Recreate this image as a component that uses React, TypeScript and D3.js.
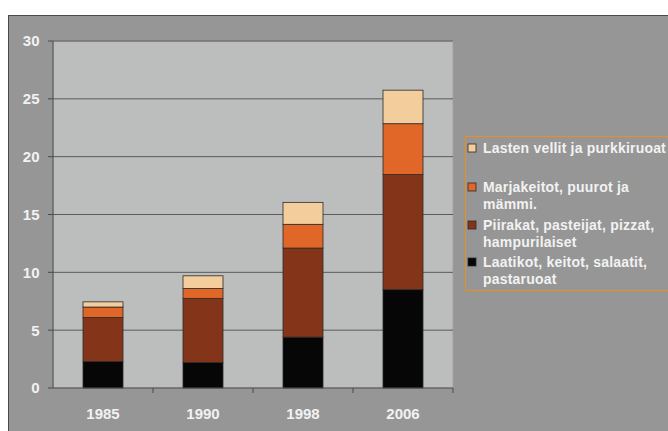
import * as d3 from 'd3';

const years = ['1985', '1990', '1998', '2006'];
const seriesNames = [
  'Laatikot, keitot, salaatit, pastaruoat',
  'Piirakat, pasteijat, pizzat, hampurilaiset',
  'Marjakeitot, puurot ja mämmi.',
  'Lasten vellit ja purkkiruoat',
];
const laatikot = [2.3, 2.2, 4.4, 8.5];
const piirakat = [3.8, 5.55, 7.7, 9.95];
const marjakeitot = [0.9, 0.85, 2.05, 4.4];
const lasten = [0.45, 1.1, 1.9, 2.9];
const yTicks = [0, 5, 10, 15, 20, 25, 30];

// legend lines, top to bottom
const legendLines = [
  ['Lasten vellit ja purkkiruoat'],
  ['Marjakeitot, puurot ja', 'mämmi.'],
  ['Piirakat, pasteijat, pizzat,', 'hampurilaiset'],
  ['Laatikot, keitot, salaatit,', 'pastaruoat'],
];

const colors = ['#060606', '#843519', '#e06727', '#f3cd9b'];

const W = 668;
const H = 431;
const margin = { top: 41, right: 215, bottom: 43, left: 53 };

export default function App() {
  const rows = years.map((y, i) => ({
    year: y,
    s0: laatikot[i],
    s1: piirakat[i],
    s2: marjakeitot[i],
    s3: lasten[i],
  }));
  const stack = d3.stack<any>().keys(['s0', 's1', 's2', 's3']);
  const layers = stack(rows);

  const x = d3.scaleBand()
    .domain(years)
    .range([margin.left, W - margin.right])
    .paddingInner(0.6)
    .paddingOuter(0.3);
  const band = d3.scaleBand().domain(years).range([margin.left, W - margin.right]);

  const y = d3.scaleLinear()
    .domain([0, 30])
    .range([H - margin.bottom, margin.top]);

  const font = 'Liberation Sans, Arial, sans-serif';
  const legendColor = [3, 2, 1, 0];
  const legendY = [153, 192, 230, 267];

  return (
    <svg width={W} height={H} style={{ position: 'absolute', left: 0, top: 0 }}>
      <rect x={0} y={0} width={W} height={H} fill="#ffffff" />
      <rect x={8.5} y={15.5} width={W} height={H} fill="#969696" stroke="#4a4a4a" strokeWidth={1} />
      <rect
        x={margin.left}
        y={margin.top}
        width={W - margin.right - margin.left}
        height={H - margin.bottom - margin.top}
        fill="#bcbebd"
        stroke="#a0a0a0"
      />
      {yTicks.map(t => (
        <g key={t} transform={`translate(0,${y(t)})`}>
          {t > 0 && (
            <line x1={margin.left} x2={W - margin.right} stroke="#5a5a5a" strokeWidth={1} />
          )}
          <line x1={margin.left - 5} x2={margin.left} stroke="#4a4a4a" />
          <text
            x={39.5}
            dy="0.36em"
            textAnchor="end"
            fill="#f2f2f2"
            fontFamily={font}
            fontWeight="bold"
            fontSize={15}
          >
            {t}
          </text>
        </g>
      ))}
      {layers.map((layer, li) => (
        <g key={li} fill={colors[li]}>
          {layer.map((d, i) => (
            <rect
              key={i}
              x={x(years[i])}
              y={y(d[1])}
              width={x.bandwidth()}
              height={y(d[0]) - y(d[1])}
              stroke="#2a2a2a"
              strokeWidth={0.8}
            />
          ))}
        </g>
      ))}
      <line
        x1={margin.left}
        x2={margin.left}
        y1={margin.top}
        y2={H - margin.bottom}
        stroke="#4a4a4a"
      />
      <line
        x1={margin.left}
        x2={W - margin.right}
        y1={H - margin.bottom}
        y2={H - margin.bottom}
        stroke="#4a4a4a"
      />
      {years.map(yr => (
        <line
          key={'t' + yr}
          x1={(band(yr) ?? 0) + band.bandwidth()}
          x2={(band(yr) ?? 0) + band.bandwidth()}
          y1={H - margin.bottom}
          y2={H - margin.bottom + 5}
          stroke="#4a4a4a"
        />
      ))}
      {years.map(yr => (
        <text
          key={'l' + yr}
          x={(x(yr) ?? 0) + x.bandwidth() / 2}
          y={419}
          textAnchor="middle"
          fill="#f2f2f2"
          fontFamily={font}
          fontWeight="bold"
          fontSize={15}
        >
          {yr}
        </text>
      ))}
      <rect x={465.5} y={136.5} width={220} height={154} fill="none" stroke="#e0902e" strokeWidth={1.2} />
      {legendLines.map((lines, i) => (
        <g key={'lg' + i}>
          <rect
            x={468}
            y={legendY[i] - 9}
            width={8}
            height={8}
            fill={colors[legendColor[i]]}
            stroke="#2a2a2a"
            strokeWidth={0.8}
          />
          <title>{seriesNames[legendColor[i]]}</title>
          {lines.map((ln, j) => (
            <text
              key={j}
              x={483}
              y={legendY[i] + j * 16.5}
              fill="#f2f2f2"
              fontFamily={font}
              fontWeight="bold"
              fontSize={14}
              letterSpacing={0.2}
            >
              {ln}
            </text>
          ))}
        </g>
      ))}
    </svg>
  );
}
